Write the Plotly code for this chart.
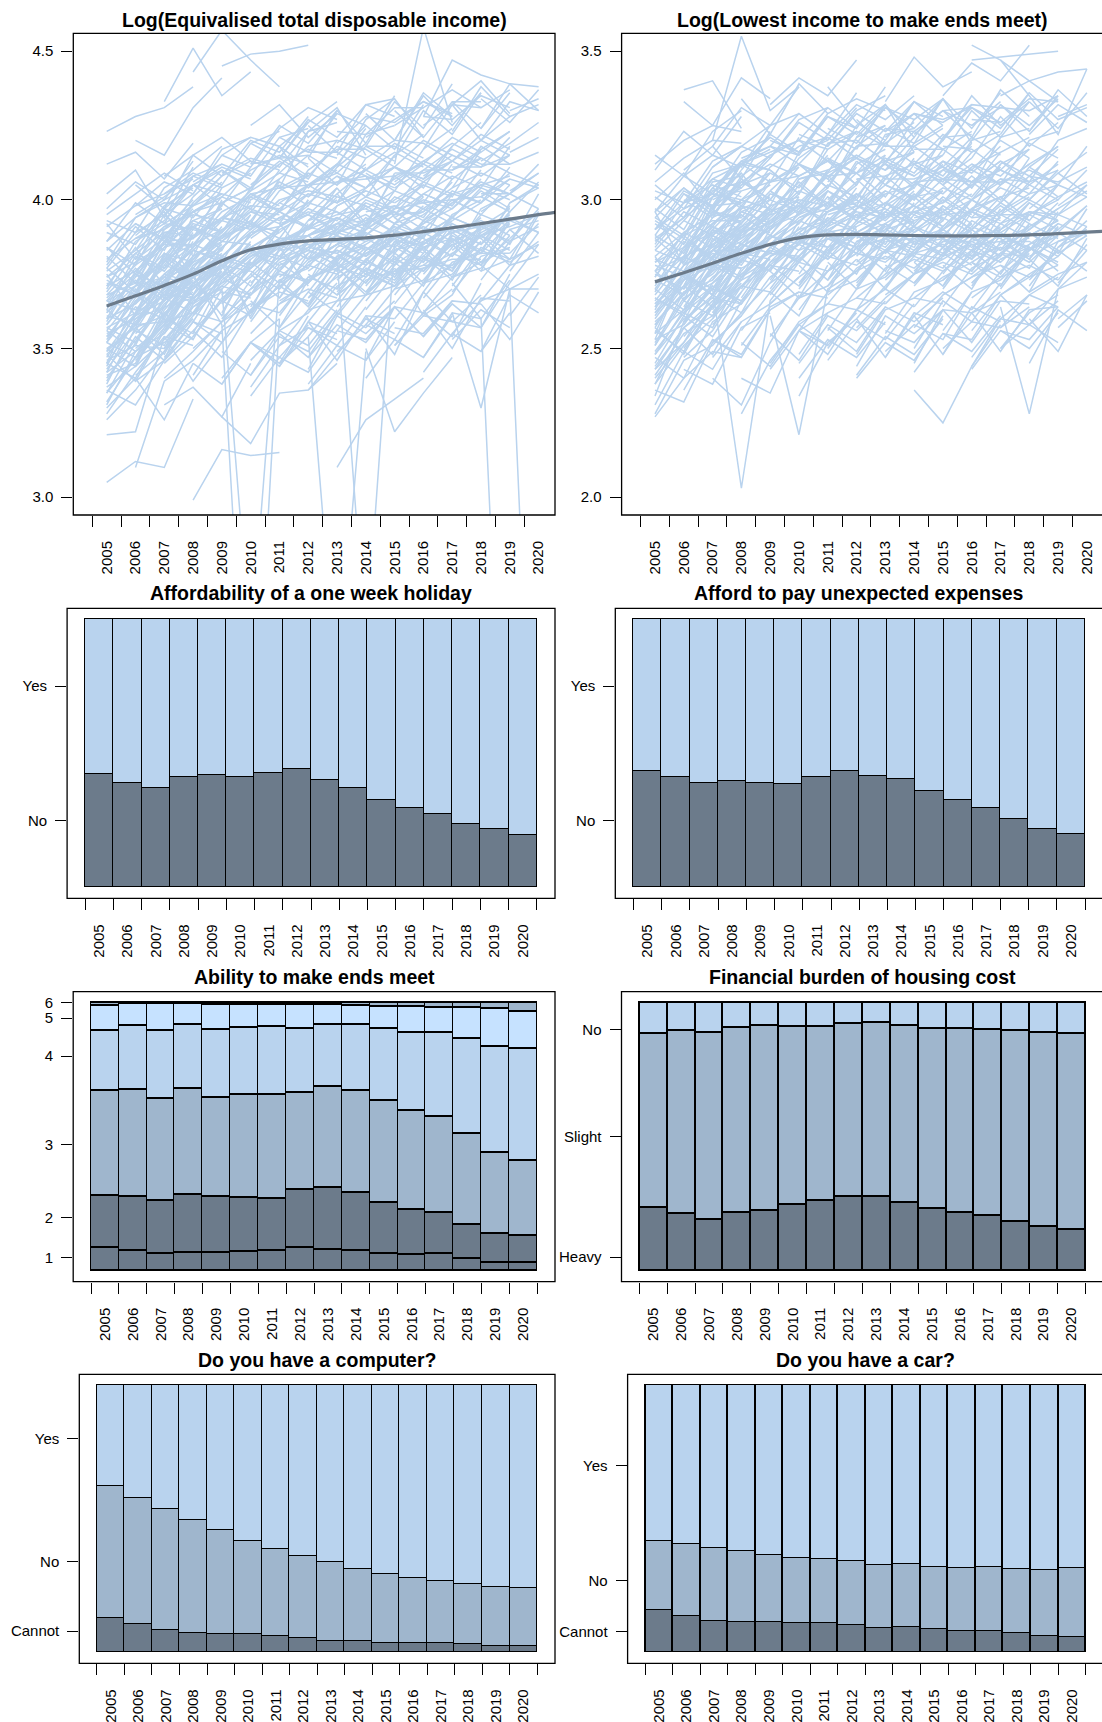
import plotly.graph_objects as go

W, H = 1102, 1722
FONT = "Liberation Sans, Arial, Helvetica, sans-serif"
PALE = "#C6E2FF"
LIGHT = "#B9D3EE"
MID = "#9FB6CD"
DARK = "#6C7B8B"

YEARS = list(range(2005, 2021))
YEAR_LABELS = [str(y) for y in YEARS]

# Household trajectories: "YY v1 v2 ..." -> first wave year (20YY), then yearly values x100
INCOME_PATHS = [
    "05 362 371 374 380", "05 355 360 368 371 377", "05 371 376 384 387", "05 348 358 359 371",
    "05 380 387 390 396 399", "05 342 349 359 362", "05 366 363 373 379", "05 391 398 402 407",
    "05 358 370 361 374 378", "05 335 347 352 360", "05 374 382 377 391", "05 352 347 364 367 374",
    "05 397 406 400 413", "05 360 365 381 374", "05 345 359 368 367 372", "05 377 369 386 391",
    "05 330 340 326 345", "05 321 322 354 339 352", "05 423 428 431 438", "05 305 312 310 333",
    "05 368 378 385 385 396 401", "05 412 416 407 419", "05 357 362 372 367", "05 386 394 399 398 406",
    "05 339 354 346 356", "05 364 373 366 379 384", "05 350 344 363 373", "05 328 342 354 351",
    "05 384 375 390 400", "05 338 357 361 372", "05 402 410 394 411", "05 369 382 389 388",
    "05 346 351 350 366 370", "05 375 361 382 375", "05 359 375 367 383", "05 326 336 349 360",
    "05 392 380 397 387", "05 353 367 374 384", "05 378 391 383 399", "05 363 356 371 365 376",
    "05 344 362 380 371", "05 356 349 358 377", "05 371 384 371 395", "05 336 331 346 368",
    "05 347 361 370 379", "05 367 375 371 386", "05 356 368 378 375 388", "05 374 379 391 396",
    "05 341 345 362 369", "05 383 392 387 401", "05 361 358 373 384", "05 352 364 360 375",
    "05 370 386 392 390", "05 335 352 365 373", "05 389 385 398 404", "05 358 371 379 392",
    "05 345 340 357 366", "05 377 389 395 402", "05 366 377 368 381", "05 350 357 373 379",
    "05 381 372 388 397", "05 362 374 386 382", "05 343 356 351 368", "05 395 402 409 403",
    "05 354 366 375 372", "05 373 368 384 393", "05 349 362 368 381", "05 364 381 376 389",
    "05 332 347 358 353",
    "05 352 369 377 385 390", "05 368 372 380 393 397", "05 340 353 366 374 382", "05 379 394 400 405 410",
    "05 357 352 367 380 389", "05 386 399 392 408 412", "05 345 366 372 368 384", "05 363 379 385 396 401",
    "05 337 344 361 378 386", "05 372 368 386 384 399", "05 349 358 375 383 380", "05 393 389 404 410 418",
    "05 360 376 370 388 393", "05 331 349 355 367 376", "05 376 383 397 394 405", "05 354 361 382 379 391",
    "05 342 360 364 381 388", "05 384 378 395 405 402", "05 366 371 389 391 397", "05 348 339 356 372 380",
    "06 361 366 375 380", "06 376 386 387 398", "06 344 353 362 359 368", "06 395 401 408 404",
    "06 310 339 346 356", "06 368 361 376 385", "06 420 415 431 441", "06 352 367 370 380",
    "06 383 391 395 393 402", "06 339 346 359 355", "06 372 382 375 390", "06 405 397 415 408",
    "06 357 348 365 371", "06 388 396 381 400", "06 365 379 391 386",
    "06 355 364 378 383", "06 371 380 385 381", "06 347 360 355 373", "06 380 387 398 402",
    "06 362 373 368 379", "06 392 386 399 408", "06 350 358 371 376",
    "06 358 369 380 388 391", "06 374 388 384 399 404", "06 346 357 372 377 385", "06 387 393 405 411 407",
    "06 365 374 371 386 395", "06 351 370 377 374 389", "06 398 406 402 417 421", "06 369 381 392 389 398",
    "06 341 349 364 371 380",
    "07 366 376 381 389", "07 353 364 369 367", "07 384 393 389 402 398", "07 340 349 359 373",
    "07 408 415 421 413", "07 372 381 386 385", "07 331 337 327 345", "07 433 451 435 443",
    "07 359 372 378 376", "07 395 387 404 409", "07 347 359 352 369", "07 379 388 394 392",
    "07 362 353 370 379", "07 388 374 361 380",
    "07 358 370 380 383", "07 375 383 379 395", "07 349 361 371 368", "07 386 396 402 399",
    "07 367 362 377 388", "07 397 405 398 411", "07 356 367 375 386",
    "07 363 374 384 392 389", "07 378 390 387 401 407", "07 350 362 374 381 386", "07 392 398 408 413 410",
    "07 369 377 374 389 397", "07 355 372 380 377 390", "07 402 409 405 419 423", "07 372 384 394 391 400",
    "07 345 354 367 374 383",
    "08 375 358 190 360", "08 299 316 314 315", "08 387 394 398 397 405", "08 362 372 377 386",
    "08 350 359 365 362", "08 401 410 404 418", "08 370 378 371 387", "08 443 457 447 438",
    "08 341 356 362 371", "08 380 390 396 395", "08 356 347 363 373", "08 391 383 400 405",
    "08 366 381 360 376",
    "08 365 378 384 389", "08 381 387 393 405", "08 354 366 361 377", "08 390 401 397 410",
    "08 371 366 380 387", "08 359 374 382 378", "08 396 389 404 412",
    "08 368 378 388 394 391", "08 383 393 390 403 408", "08 356 366 377 384 388", "08 396 401 410 415 412",
    "08 374 381 378 391 398", "08 361 375 383 380 392", "08 406 412 408 421 424", "08 377 388 397 393 402",
    "09 327 318 335 336 345", "09 370 250 373 377", "09 381 389 391 399", "09 360 370 375 373",
    "09 445 449 450 452", "09 393 402 396 409", "09 352 363 369 366", "09 373 381 387 386 392",
    "09 340 352 345 361", "09 386 393 384 400", "09 365 375 367 382", "09 410 403 418 411",
    "09 378 362 384 371",
    "09 368 377 385 391", "09 384 392 387 400", "09 357 368 376 372", "09 394 403 409 406",
    "09 374 368 383 391", "09 362 379 372 386", "09 399 392 407 415",
    "09 372 382 391 396 393", "09 387 396 392 405 410", "09 360 370 380 386 390", "09 399 404 412 417 414",
    "09 378 384 381 393 400", "09 365 378 386 383 394", "09 409 414 411 423 426", "09 381 390 399 395 404",
    "10 378 387 388 394", "10 362 371 365 380", "10 391 400 403 401", "10 346 356 362 372",
    "10 383 376 391 395", "10 370 380 384 382 390", "10 405 413 407 420", "10 355 365 370 367",
    "10 388 396 390 404", "10 337 351 357 353", "10 425 432 421 429", "10 366 357 373 379",
    "10 372 381 377 391", "10 387 394 399 396", "10 359 372 378 385", "10 396 406 401 412",
    "10 376 370 386 392", "10 364 378 383 380", "10 401 396 410 417",
    "10 375 385 388 392 389", "10 390 396 391 401 398", "10 363 371 378 375 384", "10 402 404 409 405 412",
    "10 381 385 380 390 387", "10 368 379 383 378 389", "10 412 414 408 418 414", "10 384 390 395 389 398",
    "11 381 388 379 392", "11 366 372 384 389", "11 396 402 399 411", "11 351 363 366 378",
    "11 386 391 388 399", "11 373 364 381 385", "11 409 418 420 417", "11 357 369 362 374",
    "11 392 380 398 403", "11 345 354 235 349", "11 376 386 389 386", "11 361 374 377 382",
    "11 418 404 412 424",
    "11 374 382 388 384", "11 389 397 393 404", "11 362 374 370 383", "11 399 405 412 408",
    "11 379 372 389 393", "11 367 379 385 381", "11 404 398 411 419",
    "11 377 384 388 383 391", "11 392 395 390 400 396", "11 365 373 378 374 383", "11 404 405 409 404 411",
    "11 383 385 380 391 387", "11 370 380 383 378 388", "11 414 415 409 418 413", "11 386 390 394 388 397",
    "12 384 392 393 396", "12 367 379 372 386", "12 399 406 408 404", "12 354 366 368 377",
    "12 388 394 390 403", "12 375 368 380 387", "12 414 405 422 425", "12 359 371 376 371",
    "12 393 402 391 409", "12 347 358 352 364", "12 380 385 394 389", "12 364 377 369 381",
    "12 336 348 360 355",
    "12 376 383 379 392", "12 390 398 403 399", "12 363 375 382 388", "12 401 408 404 415",
    "12 381 376 390 396", "12 369 381 376 389", "12 405 399 414 420",
    "12 379 385 389 384 392", "12 393 396 391 401 397", "12 367 374 379 375 384", "12 405 406 410 405 412",
    "12 385 386 381 392 388", "12 372 381 384 379 389", "12 416 416 410 419 414", "12 388 391 395 389 398",
    "13 310 326 333 340", "13 386 390 397 405", "13 369 380 374 388", "13 399 404 411 407",
    "13 356 368 371 382", "13 390 398 392 401", "13 377 368 386 385", "13 415 425 417 432",
    "13 361 373 376 377", "13 395 401 397 410", "13 380 250 385 391", "13 368 375 371 386",
    "13 404 392 408 401",
    "13 377 385 391 387", "13 392 399 395 406", "13 364 377 373 386", "13 402 410 416 411",
    "13 382 375 392 396", "13 370 383 388 384", "13 408 401 415 422",
    "13 380 386 390 385 393", "13 395 397 392 402 398", "13 368 375 380 376 385", "13 406 407 411 406 413",
    "13 386 387 382 393 389", "13 373 382 385 380 390", "13 417 417 411 420 415", "13 389 392 396 390 399",
    "14 388 395 396 406", "14 371 382 376 387", "14 401 407 413 409", "14 358 370 373 384",
    "14 392 398 394 407", "14 377 372 385 391", "14 421 427 433 428", "14 363 375 378 378",
    "14 397 403 399 412", "14 350 322 335 347", "14 383 390 397 392", "14 368 379 371 388",
    "14 408 394 387 402",
    "14 378 387 382 395", "14 393 400 406 402", "14 366 378 385 391", "14 404 411 407 418",
    "14 384 378 393 399", "14 372 384 379 392", "14 409 403 417 424",
    "14 381 387 391 386 394", "14 396 398 393 403 399", "14 369 376 381 377 386", "14 407 408 412 407 414",
    "14 387 388 383 394 390", "14 374 383 386 381 391", "14 418 418 412 421 416",
    "15 390 395 402 405", "15 373 384 376 392", "15 404 410 417 412", "15 360 372 375 386",
    "15 394 400 397 407", "15 381 372 389 391", "15 425 431 437 431", "15 365 377 380 380",
    "15 399 405 401 417", "15 351 362 354 372", "15 386 392 400 395", "15 370 381 373 390",
    "15 377 361 368 384", "15 412 458 426",
    "15 380 388 394 390", "15 395 402 398 410", "15 368 380 376 389", "15 406 413 419 414",
    "15 386 379 395 400", "15 374 386 391 387", "15 411 404 418 426",
    "15 383 388 392 387 395", "15 397 399 394 404 400", "15 371 377 382 378 387", "15 409 409 413 408 415",
    "15 389 389 384 395 391", "15 376 384 387 382 392", "15 420 419 413 422 417",
    "16 392 397 405 408", "16 375 386 378 394", "16 407 413 420 415", "16 362 374 377 388",
    "16 396 402 399 411", "16 383 374 391 393", "16 428 447 442 439 438", "16 367 379 382 382",
    "16 402 408 404 418", "16 354 365 357 375", "16 388 394 403 397", "16 372 387 379",
    "16 381 390 385 398", "16 397 404 409 405", "16 369 382 388 394", "16 408 415 411 421",
    "16 387 381 397 402", "16 376 388 383 396",
    "16 384 389 393 388", "16 399 400 395 405", "16 372 378 383 379", "16 410 410 414 409",
    "16 390 390 385 396", "16 378 385 388 383",
    "17 393 399 407", "17 377 388 380 396", "17 410 416 423", "17 362 330 370 375",
    "17 399 405 402", "17 385 376 393 395", "17 432 440 429", "17 369 381 384",
    "17 355 366 370 370", "17 372 360 150", "17 404 418 412",
    "17 383 391 397", "17 399 406 402 412", "17 371 384 380", "17 410 417 423",
    "17 389 382 399 404", "17 378 389 394",
    "17 386 390 394 389", "17 400 401 396 406", "17 374 379 384", "17 411 411 415",
    "17 391 391 386 397",
    "18 396 402 409", "18 379 390 382", "18 413 419 426", "18 366 378 381",
    "18 401 407 404", "18 387 378 395", "18 378 370 150", "18 420 433 430",
    "18 385 393 389", "18 401 409 405", "18 373 386 391", "18 392 385 402",
    "18 388 391 395", "18 402 402 397", "18 376 380 385", "18 412 412 416",
    "19 399 405", "19 382 392", "19 416 421", "19 372 385",
    "19 387 396", "19 403 409", "19 376 389", "19 390 393", "19 379 386",
    # upper and lower fringe households
    "08 402 415 421 418 426", "09 408 420 416 428", "09 415 411 424 431 427", "10 412 425 419 430",
    "10 419 414 426 433", "11 414 427 421 432 428", "11 421 416 429 425", "12 414 430 419 435",
    "12 425 416 432 434", "13 419 428 426 433 429", "13 423 422 431 431", "14 418 433 424 439",
    "14 429 420 436 428", "15 420 435 425 436", "15 430 421 433 433", "16 425 432 431 437",
    "16 428 427 435 431", "17 423 438 428 432", "17 433 424 436", "18 424 439 430",
    "18 434 426 437", "19 430 434", "13 411 427 434 421", "15 414 430 422 436",
    "11 404 423 431 415", "16 417 432 420 428",
    "08 345 338 352 360", "09 349 341 356 351 363", "09 338 352 347 358", "10 352 344 359 355",
    "10 341 354 349 362", "11 355 347 362 357 366", "11 344 357 351 364", "12 359 346 361 360",
    "12 343 361 355 364", "13 356 353 364 362 370", "13 349 358 353 369", "14 361 348 369 359",
    "14 346 364 354 366", "15 357 355 366 365", "15 351 361 359 368", "16 363 350 367 366",
    "16 347 362 360 373", "17 359 357 372", "17 353 363 357", "18 365 353 369",
    "18 349 368 362", "19 361 374", "10 334 347 342 356", "12 338 351 346 359",
    "14 340 353 347 361", "16 342 355 349 362",
]

# Smoothed mean of log income (last point runs to the right frame)
INCOME_TREND_X = YEARS + [2020.6]
INCOME_TREND = [3.643, 3.677, 3.712, 3.750, 3.795, 3.832, 3.851, 3.862, 3.867,
                3.872, 3.881, 3.893, 3.906, 3.920, 3.935, 3.950, 3.958]

ENDS_PATHS = [
    "05 272 281 285 292", "05 255 263 271 266 279", "05 290 297 302 299", "05 238 251 260 271",
    "05 301 294 309 312", "05 265 275 268 284", "05 283 293 288 298", "05 247 240 259 265",
    "05 312 320 325 323", "05 228 246 251 262", "05 276 268 283 289", "05 260 273 278 277",
    "05 294 304 296 312", "05 243 257 248 266", "05 269 284 289 288 296", "05 315 308 323 330",
    "05 252 267 272 282", "05 279 288 293 293", "05 236 232 252 261", "05 287 279 294 299",
    "05 262 271 264 280", "05 306 314 320 319", "05 248 260 267 265", "05 274 287 280 293",
    "05 297 290 306 308", "05 231 249 243 259", "05 267 261 277 284", "05 285 299 302 300",
    "05 256 249 264 271", "05 310 323 315 328", "05 241 255 261 271", "05 278 274 289 293",
    "05 264 278 283 283", "05 300 309 297 313", "05 270 263 281 286", "05 288 302 295 307",
    "05 245 261 254 269", "05 258 269 275 285", "05 292 285 301 303", "05 227 240 249 247",
    "05 281 266 287 279", "05 234 259 270 266", "05 253 276 268 290", "05 296 278 291 285",
    "05 266 278 284 290", "05 281 289 284 298", "05 258 271 280 277", "05 290 299 305 301",
    "05 249 262 270 281", "05 275 270 286 292", "05 263 281 276 289", "05 286 294 301 309",
    "05 253 258 272 279", "05 296 304 297 310", "05 270 283 291 287", "05 244 257 266 275",
    "05 280 276 292 297", "05 261 274 268 284", "05 293 287 303 306", "05 268 280 289 295",
    "05 251 266 261 276", "05 284 296 291 303", "05 273 268 279 291", "05 305 297 311 318",
    "05 257 273 283 279", "05 276 289 295 294", "05 240 252 264 272", "05 288 282 298 304",
    "05 265 273 288 283",
    "05 262 275 283 291 296", "05 279 284 292 300 305", "05 248 263 274 281 287", "05 290 303 298 312 316",
    "05 267 262 277 290 297", "05 296 308 302 316 321", "05 255 276 281 278 292", "05 274 289 295 305 309",
    "05 243 252 268 284 291", "05 283 279 296 294 307", "05 259 268 285 291 289", "05 303 299 313 318 325",
    "05 271 286 280 297 301", "05 238 257 264 275 283", "05 287 294 307 304 314", "05 264 271 290 287 298",
    "05 251 269 273 289 294", "05 294 288 304 313 310", "05 276 281 298 299 305", "05 257 248 265 280 287",
    "06 276 285 289 298", "06 258 271 265 281", "06 299 307 312 310", "06 243 238 257 262",
    "06 284 297 289 302", "06 333 325 341 334", "06 266 276 282 280", "06 310 318 307 323",
    "06 250 264 271 269", "06 288 280 296 300", "06 271 288 281 294", "06 236 253 248 263",
    "06 302 298 312 317", "06 262 257 274 280", "06 280 301 309 296", "06 337 340 324",
    "06 270 281 287 293", "06 284 292 300 297", "06 259 268 280 287", "06 293 304 298 309",
    "06 275 270 286 295", "06 264 278 273 288", "06 300 294 308 315",
    "06 266 277 288 295 298", "06 283 296 292 306 311", "06 254 265 280 285 292", "06 297 302 313 318 315",
    "06 273 282 279 293 302", "06 259 278 285 282 296", "06 308 315 311 325 329", "06 278 290 300 297 306",
    "06 247 256 271 278 287",
    "07 279 289 292 300", "07 262 273 278 276", "07 304 312 306 321", "07 247 259 265 274",
    "07 290 283 298 301", "07 318 331 325 338", "07 268 262 279 285", "07 295 306 300 311",
    "07 253 247 263 269", "07 283 295 288 301", "07 270 203 266 279", "07 320 355 330 338",
    "07 260 277 282 281", "07 240 231 252 268",
    "07 273 284 290 297", "07 288 296 292 305", "07 262 274 283 280", "07 297 306 312 308",
    "07 279 274 290 298", "07 267 280 276 291", "07 304 297 311 318",
    "07 270 281 291 298 296", "07 286 298 295 308 313", "07 258 269 281 288 293", "07 300 305 315 320 317",
    "07 277 285 282 296 304", "07 263 280 288 285 298", "07 311 318 314 327 331", "07 281 292 302 299 308",
    "07 252 261 274 281 290",
    "08 282 291 295 303", "08 266 278 271 287", "08 307 298 316 320", "08 251 264 269 267",
    "08 293 303 297 310", "08 271 281 286 284", "08 298 290 307 310", "08 256 269 261 278",
    "08 285 296 300 298", "08 240 235 256 262", "08 312 321 315 328", "08 334 322 339 329",
    "08 228 246 258 251",
    "08 276 287 293 289", "08 291 300 296 309", "08 265 277 285 292", "08 300 309 304 315",
    "08 282 276 293 299", "08 270 284 279 294", "08 307 300 314 321",
    "08 274 284 290 293 289", "08 290 297 292 303 298", "08 262 272 279 276 285", "08 303 306 312 308 314",
    "08 281 288 283 294 290", "08 267 281 285 280 291", "08 314 318 312 322 317", "08 285 293 298 292 301",
    "09 285 294 297 305", "09 269 281 273 290", "09 310 302 319 323", "09 254 267 271 280",
    "09 296 306 298 313", "09 276 267 284 289", "09 318 329 322 336", "09 261 221 270 276",
    "09 288 299 291 304", "09 245 259 265 263", "09 303 295 310 315", "09 332 341 335 347",
    "09 272 286 303 296",
    "09 279 289 296 301", "09 294 303 299 311", "09 268 280 287 284", "09 303 312 307 318",
    "09 285 279 296 302", "09 273 286 282 297", "09 310 302 317 323",
    "09 277 287 290 295 288", "09 292 298 293 302 297", "09 265 274 281 278 286", "09 306 308 313 309 315",
    "09 284 289 284 295 291", "09 270 283 287 282 292", "09 316 320 313 323 318", "09 287 295 299 293 302",
    "10 287 296 299 307", "10 271 283 275 292", "10 312 304 321 325", "10 256 269 273 283",
    "10 298 308 300 315", "10 278 269 286 291", "10 320 331 324 338", "10 263 276 282 280",
    "10 290 301 293 307", "10 248 262 267 265", "10 305 297 312 317", "10 281 291 296 294",
    "10 234 252 260 271",
    "10 281 292 298 295", "10 296 305 301 313", "10 270 282 289 295", "10 305 314 309 320",
    "10 287 281 297 303", "10 275 288 284 298", "10 312 304 318 325",
    "10 279 289 291 296 289", "10 294 299 294 303 298", "10 267 276 282 279 287", "10 307 309 314 310 316",
    "10 286 290 285 296 292", "10 272 284 288 283 293", "10 318 321 314 324 319", "10 289 296 300 294 303",
    "11 289 297 302 305", "11 273 284 276 292", "11 314 305 322 324", "11 256 270 274 283",
    "11 300 309 301 314", "11 279 270 287 290", "11 322 332 327 335", "11 265 277 283 281",
    "11 292 302 294 305", "11 250 263 270 264", "11 307 298 313 316", "11 283 292 299 293",
    "11 338 326 320 333",
    "11 282 293 289 302", "11 297 306 312 308", "11 271 284 290 286", "11 306 315 310 321",
    "11 288 282 298 304", "11 276 289 285 299", "11 313 305 319 326",
    "11 280 288 292 285 293", "11 295 298 293 302 296", "11 268 276 281 277 286", "11 308 309 313 308 315",
    "11 287 289 284 295 290", "11 273 284 287 282 291", "11 319 320 313 323 317", "11 290 295 299 292 301",
    "12 287 294 301 303", "12 270 283 275 291", "12 314 307 319 325", "12 257 267 275 280",
    "12 297 308 300 313", "12 280 270 286 289", "12 321 331 324 334", "12 263 277 282 280",
    "12 292 299 295 303", "12 248 263 267 265", "12 307 298 312 315", "12 281 291 296 294",
    "12 240 252 246 261",
    "12 283 292 298 294", "12 297 305 301 312", "12 271 283 290 296", "12 306 314 309 320",
    "12 288 282 297 303", "12 276 288 284 298", "12 313 305 318 324",
    "12 279 287 291 284 292", "12 294 297 291 301 295", "12 267 275 280 276 285", "12 307 308 312 307 314",
    "12 286 288 283 294 289", "12 272 283 286 281 290", "12 318 319 312 322 316", "12 289 294 298 291 300",
    "13 288 296 299 305", "13 271 281 277 289", "13 312 305 321 322", "13 255 269 273 282",
    "13 299 306 302 311", "13 278 272 284 292", "13 323 329 326 332", "13 265 275 284 278",
    "13 290 301 293 306", "13 247 261 269 263", "13 305 300 310 318", "13 283 289 298 292",
    "13 333 348 338 343",
    "13 282 291 287 300", "13 296 305 310 306", "13 270 283 289 285", "13 305 313 308 319",
    "13 287 281 296 302", "13 275 288 284 297", "13 312 304 317 323",
    "13 280 287 290 284 291", "13 295 296 291 300 294", "13 268 275 279 275 284", "13 307 307 311 306 313",
    "13 286 287 282 293 288", "13 273 282 285 280 289", "13 318 318 311 321 315", "13 290 293 297 290 299",
    "14 289 295 300 306", "14 272 282 276 290", "14 311 306 320 323", "14 257 268 274 281",
    "14 298 307 301 312", "14 279 271 287 290", "14 322 330 325 333", "14 264 276 283 279",
    "14 291 300 294 305", "14 236 225 244 258", "14 306 299 311 316", "14 282 290 297 293",
    "14 250 266 259 272",
    "14 283 290 296 292", "14 297 304 300 311", "14 271 282 288 294", "14 306 313 309 318",
    "14 288 281 296 301", "14 276 287 283 297", "14 312 305 316 322",
    "14 279 286 290 283 290", "14 294 296 290 299 293", "14 267 274 279 274 283", "14 306 307 310 305 312",
    "14 285 287 281 292 287", "14 272 281 285 279 288", "14 317 317 310 320 314",
    "15 288 297 301 304", "15 271 283 275 292", "15 313 304 321 324", "15 256 269 273 282",
    "15 299 308 300 314", "15 278 270 286 291", "15 321 331 324 336", "15 264 277 282 281",
    "15 290 300 295 306", "15 248 262 266 265", "15 305 296 312 317", "15 283 290 298 292",
    "15 335 346 340 352",
    "15 282 291 287 299", "15 296 305 310 306", "15 270 283 288 284", "15 305 312 308 317",
    "15 287 280 295 301", "15 275 287 283 296", "15 311 304 316 321",
    "15 280 286 289 283 290", "15 295 296 290 299 293", "15 268 274 278 274 283", "15 307 306 310 305 312",
    "15 286 286 281 292 287", "15 273 281 284 279 288", "15 318 317 310 319 314",
    "16 288 296 302 305", "16 272 282 277 291", "16 312 305 320 323", "16 256 268 275 281",
    "16 300 307 302 313", "16 279 271 285 292", "16 320 332 325 334", "16 263 276 284 279",
    "16 291 301 293 305", "16 247 260 268 264", "16 306 299 311 318", "16 282 292 296 293",
    "16 352 347 340 333", "16 347 348 349 350",
    "16 283 290 296 293", "16 297 304 300 310", "16 271 282 288 293", "16 306 313 308 317",
    "16 288 281 295 300", "16 276 288 283 296",
    "16 279 285 289 283", "16 294 295 290 299", "16 267 274 278 273", "16 306 306 310 305",
    "16 285 286 280 291", "16 272 280 284 278",
    "17 289 295 301 306", "17 271 284 276", "17 313 306 320 324", "17 257 268 274",
    "17 299 308 301", "17 278 269 286 290", "17 347 335 322 344", "17 264 228 270",
    "17 292 300 295 305", "17 250 262 268", "17 335 340 343 344",
    "17 282 291 297", "17 296 305 300 310", "17 270 283 288", "17 305 312 318",
    "17 287 280 295 301", "17 275 288 293",
    "17 280 285 289 283", "17 295 295 290 298", "17 268 274 278", "17 307 306 310",
    "17 286 286 281 291",
    "18 290 297 303", "18 273 283 276", "18 311 305 318", "18 258 270 274",
    "18 300 309 302", "18 280 271 287", "18 322 332 326",
    "18 283 292 288", "18 297 305 301", "18 271 284 289", "18 289 282 297",
    "18 281 286 289", "18 296 295 291", "18 269 275 279", "18 308 306 311",
    "19 289 298", "19 272 283", "19 309 316", "19 260 268",
    "19 284 293", "19 298 305", "19 273 285", "19 282 288", "19 270 279",
    # upper and lower fringe households
    "08 310 322 316 328 324", "09 314 326 320 331", "09 320 316 329 334 330", "10 316 328 322 332",
    "10 322 318 330 335", "11 318 329 323 333 328", "11 324 319 331 327", "12 317 332 321 334",
    "12 327 318 333 325", "13 321 329 327 331 326", "13 324 323 330 331", "14 319 334 324 336",
    "14 329 320 332 331", "15 320 335 325 333", "15 330 321 337 328", "16 325 331 330 335",
    "16 327 326 334 333", "17 322 336 327 331", "17 332 323 335", "18 323 337 328",
    "18 333 324 336", "19 328 332", "13 312 327 334 319", "15 315 330 321 333",
    "11 309 325 332 316", "16 314 328 318 326",
    "08 252 244 258 265", "09 255 246 261 256 266", "09 243 256 251 262", "10 256 248 263 258",
    "10 245 258 252 264", "11 257 249 264 259 267", "11 246 259 253 265", "12 260 247 262 258",
    "12 244 261 255 263", "13 256 252 263 262 269", "13 249 258 253 269", "14 261 248 264 259",
    "14 245 263 252 266", "15 255 253 268 258", "15 250 259 257 264", "16 262 249 263 264",
    "16 244 260 258 266", "17 256 253 264", "17 250 258 252", "18 260 249 268",
    "18 245 263 256", "19 257 266", "10 240 253 247 259", "12 241 254 248 260",
    "14 242 255 249 261", "16 243 256 250 262",
]

ENDS_TREND_X = YEARS + [2020.6]
ENDS_TREND = [2.724, 2.755, 2.787, 2.820, 2.850, 2.872, 2.882, 2.884, 2.882,
              2.880, 2.879, 2.879, 2.880, 2.882, 2.886, 2.891, 2.894]

# Yearly shares per answer category (bottom to top)
HOLIDAY_NO = [0.422, 0.388, 0.368, 0.412, 0.417, 0.410, 0.427, 0.442, 0.398, 0.370, 0.326, 0.296, 0.271, 0.234, 0.216, 0.196]
HOLIDAY_YES = [0.578, 0.612, 0.632, 0.588, 0.583, 0.590, 0.573, 0.558, 0.602, 0.630, 0.674, 0.704, 0.729, 0.766, 0.784, 0.804]

EXPENSES_NO = [0.432, 0.410, 0.390, 0.395, 0.388, 0.385, 0.412, 0.432, 0.416, 0.404, 0.359, 0.324, 0.294, 0.253, 0.216, 0.199]
EXPENSES_YES = [0.568, 0.590, 0.610, 0.605, 0.612, 0.615, 0.588, 0.568, 0.584, 0.596, 0.641, 0.676, 0.706, 0.747, 0.784, 0.801]

MEET_1 = [0.086, 0.076, 0.066, 0.068, 0.068, 0.071, 0.075, 0.085, 0.078, 0.075, 0.066, 0.060, 0.066, 0.047, 0.029, 0.029]
MEET_2 = [0.194, 0.199, 0.197, 0.215, 0.207, 0.200, 0.195, 0.218, 0.233, 0.216, 0.187, 0.167, 0.151, 0.127, 0.108, 0.101]
MEET_3 = [0.392, 0.401, 0.378, 0.394, 0.372, 0.384, 0.385, 0.362, 0.377, 0.382, 0.382, 0.368, 0.358, 0.339, 0.302, 0.282]
MEET_4 = [0.222, 0.237, 0.252, 0.241, 0.250, 0.251, 0.256, 0.239, 0.230, 0.245, 0.267, 0.294, 0.312, 0.352, 0.396, 0.415]
MEET_5 = [0.095, 0.081, 0.101, 0.076, 0.094, 0.085, 0.080, 0.087, 0.073, 0.071, 0.083, 0.094, 0.092, 0.114, 0.140, 0.138]
MEET_6 = [0.011, 0.006, 0.006, 0.006, 0.009, 0.009, 0.009, 0.009, 0.009, 0.011, 0.015, 0.017, 0.021, 0.021, 0.025, 0.035]

HOUSING_HEAVY = [0.234, 0.215, 0.190, 0.217, 0.226, 0.245, 0.261, 0.278, 0.277, 0.253, 0.231, 0.216, 0.205, 0.185, 0.163, 0.152]
HOUSING_SLIGHT = [0.651, 0.681, 0.698, 0.690, 0.686, 0.663, 0.650, 0.644, 0.649, 0.661, 0.673, 0.688, 0.692, 0.711, 0.724, 0.731]
HOUSING_NO = [0.115, 0.104, 0.112, 0.093, 0.088, 0.092, 0.089, 0.078, 0.074, 0.086, 0.096, 0.096, 0.103, 0.104, 0.113, 0.117]

COMPUTER_CANNOT = [0.128, 0.106, 0.085, 0.073, 0.070, 0.068, 0.062, 0.052, 0.044, 0.041, 0.035, 0.035, 0.034, 0.032, 0.024, 0.024]
COMPUTER_NO = [0.495, 0.470, 0.452, 0.421, 0.387, 0.349, 0.323, 0.309, 0.293, 0.272, 0.259, 0.241, 0.231, 0.222, 0.220, 0.217]
COMPUTER_YES = [0.377, 0.424, 0.463, 0.506, 0.543, 0.583, 0.615, 0.639, 0.663, 0.687, 0.706, 0.724, 0.735, 0.746, 0.756, 0.759]

CAR_CANNOT = [0.158, 0.134, 0.117, 0.113, 0.114, 0.108, 0.108, 0.103, 0.091, 0.093, 0.086, 0.081, 0.078, 0.071, 0.062, 0.056]
CAR_NO = [0.259, 0.270, 0.271, 0.264, 0.251, 0.244, 0.241, 0.237, 0.234, 0.237, 0.231, 0.235, 0.239, 0.241, 0.247, 0.259]
CAR_YES = [0.583, 0.596, 0.612, 0.623, 0.635, 0.648, 0.651, 0.660, 0.675, 0.670, 0.683, 0.684, 0.683, 0.688, 0.691, 0.685]

# Category label positions on the proportion scale
YESNO_TICKS = [0.25, 0.75]
YESNO_LABELS = ["No", "Yes"]
MEET_TICKS = [0.050, 0.199, 0.470, 0.800, 0.942, 1.0]
MEET_LABELS = ["1", "2", "3", "4", "5", "6"]
HOUSING_TICKS = [0.052, 0.499, 0.899]
HOUSING_LABELS = ["Heavy", "Slight", "No"]
COMPUTER_TICKS = [0.080, 0.340, 0.800]
CAR_TICKS = [0.078, 0.270, 0.699]
OWN_LABELS = ["Cannot", "No", "Yes"]

TITLES = [
    "Log(Equivalised total disposable income)",
    "Log(Lowest income to make ends meet)",
    "Affordability of a one week holiday",
    "Afford to pay unexpected expenses",
    "Ability to make ends meet",
    "Financial burden of housing cost",
    "Do you have a computer?",
    "Do you have a car?",
]

# Frame of each panel in pixels (left, top, right, bottom) with its data ranges
BAR_XR = (2003.86, 2021.14)
BAR_YR = (-0.04, 1.04)
PANELS = [
    ((73.3, 33.3, 555.0, 515.0), (2003.84, 2020.57), (2.94, 4.56)),
    ((621.6, 33.3, 1103.3, 515.0), (2003.84, 2020.57), (1.94, 3.56)),
    ((67.1, 608.3, 555.0, 898.3), BAR_XR, BAR_YR),
    ((615.3, 608.3, 1103.2, 898.3), BAR_XR, BAR_YR),
    ((73.2, 991.7, 555.0, 1281.7), BAR_XR, BAR_YR),
    ((621.5, 991.7, 1103.3, 1281.7), BAR_XR, BAR_YR),
    ((79.3, 1374.3, 555.0, 1663.3), BAR_XR, BAR_YR),
    ((627.6, 1374.3, 1103.3, 1663.3), BAR_XR, BAR_YR),
]
TITLE_Y = [20, 20, 593.3, 593.3, 976.7, 976.7, 1360, 1360]


def paths_to_xy(paths):
    xs, ys = [], []
    for p in paths:
        parts = p.split()
        start = 2000 + int(parts[0])
        vals = [int(v) / 100 for v in parts[1:]]
        xs += [start + i for i in range(len(vals))] + [None]
        ys += vals + [None]
    return xs, ys


fig = go.Figure()


def ax(i):
    return ("x" if i == 1 else f"x{i}"), ("y" if i == 1 else f"y{i}")


# Spaghetti panels
for i, (paths, tx, ty) in enumerate([(INCOME_PATHS, INCOME_TREND_X, INCOME_TREND),
                                     (ENDS_PATHS, ENDS_TREND_X, ENDS_TREND)], 1):
    xa, ya = ax(i)
    xs, ys = paths_to_xy(paths)
    fig.add_trace(go.Scatter(x=xs, y=ys, mode="lines", xaxis=xa, yaxis=ya,
                             line=dict(color=LIGHT, width=1.5), hoverinfo="skip",
                             connectgaps=False))
    fig.add_trace(go.Scatter(x=tx, y=ty, mode="lines", xaxis=xa, yaxis=ya,
                             line=dict(color=DARK, width=3.2, shape="spline"),
                             hoverinfo="skip"))

# Spine panels: list of (shares, colour) from bottom to top
SPINES = [
    [(HOLIDAY_NO, DARK), (HOLIDAY_YES, LIGHT)],
    [(EXPENSES_NO, DARK), (EXPENSES_YES, LIGHT)],
    [(MEET_1, DARK), (MEET_2, DARK), (MEET_3, MID), (MEET_4, LIGHT), (MEET_5, PALE), (MEET_6, MID)],
    [(HOUSING_HEAVY, DARK), (HOUSING_SLIGHT, MID), (HOUSING_NO, LIGHT)],
    [(COMPUTER_CANNOT, DARK), (COMPUTER_NO, MID), (COMPUTER_YES, LIGHT)],
    [(CAR_CANNOT, DARK), (CAR_NO, MID), (CAR_YES, LIGHT)],
]
for k, series in enumerate(SPINES):
    xa, ya = ax(k + 3)
    for vals, col in series:
        fig.add_trace(go.Bar(x=YEARS, y=vals, width=1, xaxis=xa, yaxis=ya,
                             marker=dict(color=col, line=dict(color="black", width=1.4)),
                             hoverinfo="skip"))

Y_TICKS = [
    ([3.0, 3.5, 4.0, 4.5], ["3.0", "3.5", "4.0", "4.5"]),
    ([2.0, 2.5, 3.0, 3.5], ["2.0", "2.5", "3.0", "3.5"]),
    (YESNO_TICKS, YESNO_LABELS),
    (YESNO_TICKS, YESNO_LABELS),
    (MEET_TICKS, MEET_LABELS),
    (HOUSING_TICKS, HOUSING_LABELS),
    (COMPUTER_TICKS, OWN_LABELS),
    (CAR_TICKS, OWN_LABELS),
]

tick_font = dict(family=FONT, size=15, color="black")
layout = {}
shapes = []
annotations = []
for i, (box, xr, yr) in enumerate(PANELS, 1):
    left, top, right, bottom = box
    vis_right = min(right, W)
    x_end = xr[0] + (xr[1] - xr[0]) * (vis_right - left) / (right - left)
    if i <= 2:
        minor_vals = [y - 0.5 for y in YEARS]
    else:
        minor_vals = [y - 0.5 for y in YEARS] + [YEARS[-1] + 0.5]
    xkey = "xaxis" if i == 1 else f"xaxis{i}"
    ykey = "yaxis" if i == 1 else f"yaxis{i}"
    layout[xkey] = dict(
        domain=[left / W, vis_right / W], range=[xr[0], x_end], anchor=ax(i)[1],
        showgrid=False, zeroline=False, showline=False, fixedrange=True,
        tickmode="array", tickvals=YEARS, ticktext=YEAR_LABELS, tickangle=-90,
        ticks="outside", ticklen=11, tickcolor="rgba(0,0,0,0)", ticklabelstandoff=8,
        tickfont=tick_font,
        minor=dict(tickmode="array", tickvals=minor_vals, ticks="outside", ticklen=11,
                   tickwidth=1.2, tickcolor="black", showgrid=False),
    )
    tv, tt = Y_TICKS[i - 1]
    layout[ykey] = dict(
        domain=[1 - bottom / H, 1 - top / H], range=list(yr), anchor=ax(i)[0],
        showgrid=False, zeroline=False, showline=False, fixedrange=True,
        tickmode="array", tickvals=tv, ticktext=tt,
        ticks="outside", ticklen=11, tickwidth=1.2, tickcolor="black",
        ticklabelstandoff=5, tickfont=tick_font,
    )
    shapes.append(dict(type="rect", xref="paper", yref="paper",
                       x0=left / W, x1=right / W, y0=1 - bottom / H, y1=1 - top / H,
                       line=dict(color="black", width=1.3), layer="above"))
    annotations.append(dict(text=TITLES[i - 1], xref="paper", yref="paper",
                            x=(left + right) / 2 / W, y=1 - TITLE_Y[i - 1] / H,
                            xanchor="center", yanchor="middle", showarrow=False,
                            font=dict(family=FONT, size=19.5, color="black", weight="bold")))

fig.update_layout(
    width=W, height=H, margin=dict(l=0, r=0, t=0, b=0),
    paper_bgcolor="white", plot_bgcolor="white",
    barmode="stack", bargap=0, showlegend=False,
    shapes=shapes, annotations=annotations, **layout,
)

fig.write_html("out.html")
